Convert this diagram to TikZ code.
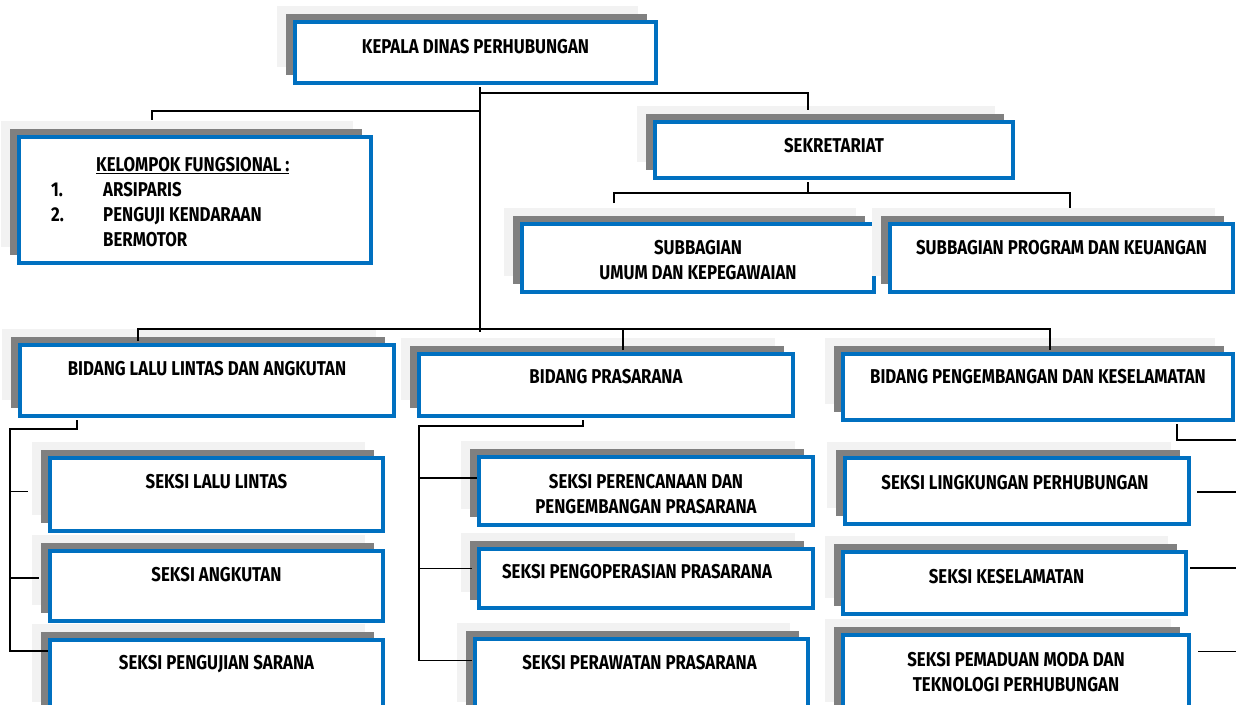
\documentclass[tikz,border=0pt]{standalone}
\usepackage{fontspec}
\newfontfamily\orgfont{Fira Sans}[FakeStretch=0.84]
\usetikzlibrary{positioning,shadows,calc}
\definecolor{dishubblue}{HTML}{0070C0}
\definecolor{shadedark}{HTML}{808080}
\definecolor{shadelight}{HTML}{F2F2F2}

\begin{document}
\begin{tikzpicture}[x=1pt,y=-1pt,
unitbox/.style={draw=dishubblue, line width=4pt, fill=white, inner sep=0pt,
  general shadow={shadow xshift=-18pt, shadow yshift=16pt, fill=shadelight, draw=none},
  general shadow={shadow xshift=-9pt, shadow yshift=8pt, fill=shadedark, draw=none}},
unittext/.style={font=\orgfont\bfseries\fontsize{20}{25}\selectfont, inner sep=0pt, align=center},
link/.style={line width=1.3pt, black}
]
    \useasboundingbox (0,0) rectangle (1236,704);
    \clip (0,0) rectangle (1236,704);

    % pimpinan dan sekretariat
    \node [unitbox, minimum width=361pt, minimum height=61pt] (kepala) at (475.5,52.5) {};
    \node [unitbox, minimum width=352pt, minimum height=126pt] (kelompok) at (195,200) {};
    \node [unitbox, minimum width=358pt, minimum height=56pt] (sek) at (834,150) {};
    \node [unitbox, minimum width=352pt, minimum height=68pt] (umum) at (698,258) {};
    \node [unitbox, minimum width=343pt, minimum height=68pt] (program) at (1061.5,258) {};

    % bidang
    \node [unitbox, minimum width=374pt, minimum height=71pt] (llaj) at (207,380.5) {};
    \node [unitbox, minimum width=374pt, minimum height=62pt] (prasarana) at (606,385) {};
    \node [unitbox, minimum width=390pt, minimum height=66pt] (pengembangan) at (1038,387) {};

    % seksi
    \node [unitbox, minimum width=333pt, minimum height=73pt] (lalulintas) at (216.5,494.5) {};
    \node [unitbox, minimum width=333pt, minimum height=70pt] (angkutan) at (216.5,586) {};
    \node [unitbox, minimum width=333pt, minimum height=78pt] (pengujian) at (216.5,679) {};
    \node [unitbox, minimum width=334pt, minimum height=68pt] (perencanaan) at (646,491) {};
    \node [unitbox, minimum width=334pt, minimum height=59pt] (pengop) at (646,578.5) {};
    \node [unitbox, minimum width=333pt, minimum height=79pt] (perawatan) at (641.5,678.5) {};
    \node [unitbox, minimum width=344pt, minimum height=66pt] (lingkungan) at (1017,491) {};
    \node [unitbox, minimum width=343pt, minimum height=62pt] (keselamatan) at (1014.5,583) {};
    \node [unitbox, minimum width=346pt, minimum height=83pt] (pemaduan) at (1016,676.5) {};

    % teks
    \node [unittext, below=19.5pt of kepala.north] (kepalaT) {KEPALA DINAS PERHUBUNGAN};
    \node [unittext, align=left, below right=22.5pt and 34pt of kelompok.north west] (kelompokT)
      {\hspace*{45pt}\underline{KELOMPOK FUNGSIONAL :}\\
       \makebox[52pt][l]{1.}ARSIPARIS\\
       \makebox[52pt][l]{2.}PENGUJI KENDARAAN\\
       \hspace*{52pt}BERMOTOR};
    \node [unittext, below=18.5pt of sek.north] (sekT) {SEKRETARIAT};
    \node [unittext, below=18.5pt of umum.north] (umumT) {SUBBAGIAN\\UMUM DAN KEPEGAWAIAN};
    \node [unittext, below=18.5pt of program.north] (programT) {SUBBAGIAN PROGRAM DAN KEUANGAN};
    \node [unittext, below=18.5pt of llaj.north] (llajT) {BIDANG LALU LINTAS DAN ANGKUTAN};
    \node [unittext, below=17.5pt of prasarana.north] (prasaranaT) {BIDANG PRASARANA};
    \node [unittext, below=17.5pt of pengembangan.north] (pengembanganT) {BIDANG PENGEMBANGAN DAN KESELAMATAN};
    \node [unittext, below=18.5pt of lalulintas.north] (lalulintasT) {SEKSI LALU LINTAS};
    \node [unittext, below=18.5pt of angkutan.north] (angkutanT) {SEKSI ANGKUTAN};
    \node [unittext, below=17.5pt of pengujian.north] (pengujianT) {SEKSI PENGUJIAN SARANA};
    \node [unittext, below=19pt of perencanaan.north] (perencanaanT) {SEKSI PERENCANAAN DAN\\PENGEMBANGAN PRASARANA};
    \node [unittext, below=17.5pt of pengop.north, xshift=-9pt] (pengopT) {SEKSI PENGOPERASIAN PRASARANA};
    \node [unittext, below=18.5pt of perawatan.north, xshift=-2pt] (perawatanT) {SEKSI PERAWATAN PRASARANA};
    \node [unittext, below=19pt of lingkungan.north, xshift=-2pt] (lingkunganT) {SEKSI LINGKUNGAN PERHUBUNGAN};
    \node [unittext, below=19pt of keselamatan.north, xshift=-8pt] (keselamatanT) {SEKSI KESELAMATAN};
    \node [unittext, below=19pt of pemaduan.north] (pemaduanT) {SEKSI PEMADUAN MODA DAN\\TEKNOLOGI PERHUBUNGAN};

    % garis
    \coordinate (hub) at (480,329);
    \coordinate (split) at (480,93);
    \coordinate (splitL) at (480,111);
    \coordinate (sekhub) at (808,193);
    \coordinate (leftbus) at (10,429);
    \coordinate (midbus) at (419,426);
    \coordinate (rightbus) at (1240,440);

    \draw [link] ($(kepala.south -| hub)+(0,2)$) -- ($(hub)+(0,3)$);
    \draw [link] (split) -| ($(sek.north)+(-26,-10)$);
    \draw [link] (splitL) -| ($(kelompok.north)+(-43,-15)$);
    \draw [link] ($(sek.south)+(-26,2)$) -- (sekhub);
    \draw [link] ($(umum.north)+(-84,-19)$) |- (sekhub) -| ($(program.north)+(8.5,-14)$);

    \draw [link] ($(llaj.north)+(-69,-2)$) |- (hub) -| ($(pengembangan.north)+(12,-2)$);
    \draw [link] ($(prasarana.north)+(17,-2)$) |- (hub);

    \draw [link] ($(llaj.south)+(-130,2)$) |- (leftbus) |- ($(pengujian.west)+(0,-28)$);
    \draw [link] ($(leftbus |- lalulintas.west)+(0,-3)$) -- ($(lalulintas.west)+(-20,-3)$);
    \draw [link] ($(leftbus |- angkutan.west)+(0,-8)$) -- ($(angkutan.west)+(-9,-8)$);

    \draw [link] ($(prasarana.south)+(-23,2)$) |- (midbus) |- ($(perawatan.west)+(-1,-18)$);
    \draw [link] ($(midbus |- perencanaan.west)+(0,-13)$) -- ($(perencanaan.west)+(0,-13)$);
    \draw [link] ($(midbus |- pengop.west)+(0,-10)$) -- ($(pengop.west)+(-5,-10)$);

    \draw [link] ($(pengembangan.south)+(139,2)$) |- (rightbus) |- ($(pemaduan.east)+(7,-25)$);
    \draw [link] ($(rightbus |- lingkungan.east)+(0,1)$) -- ($(lingkungan.east)+(6,1)$);
    \draw [link] ($(rightbus |- keselamatan.east)+(0,-15)$) -- ($(keselamatan.east)+(2,-15)$);
\end{tikzpicture}
\end{document}
